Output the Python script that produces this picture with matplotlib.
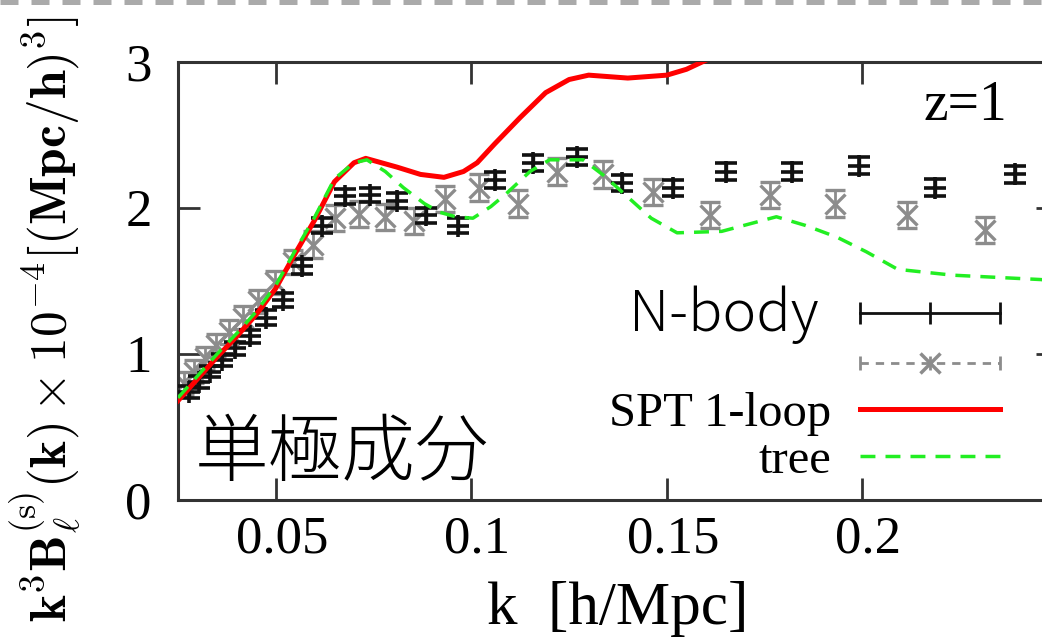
import matplotlib
matplotlib.use("Agg")
import matplotlib.pyplot as plt
from matplotlib.lines import Line2D
from matplotlib.legend_handler import HandlerLine2D, HandlerTuple
from matplotlib.transforms import ScaledTranslation

# N-body measurements (black +)
k_nbody = [0.0278, 0.0304, 0.0332, 0.0363, 0.0397, 0.0434, 0.0474, 0.0518, 0.0567,
           0.0619, 0.0677, 0.0740, 0.0809, 0.0884, 0.0966, 0.1060, 0.1158, 0.1270,
           0.1385, 0.1516, 0.1650, 0.1820, 0.1990, 0.2186, 0.2390]
b_nbody = [0.74, 0.81, 0.88, 0.96, 1.04, 1.12, 1.25, 1.37, 1.60,
           1.88, 2.08, 2.09, 2.05, 1.95, 1.88, 2.19, 2.31, 2.35,
           2.17, 2.14, 2.25, 2.25, 2.29, 2.14, 2.23]
err_nbody = [0.04, 0.04, 0.04, 0.04, 0.045, 0.045, 0.05, 0.05, 0.05,
             0.05, 0.05, 0.05, 0.05, 0.05, 0.05, 0.055, 0.055, 0.055,
             0.055, 0.055, 0.06, 0.06, 0.06, 0.06, 0.06]

# second N-body set (grey x)
k_grey = [0.0266, 0.0291, 0.0318, 0.0348, 0.0380, 0.0416, 0.0455, 0.0498, 0.0545,
          0.0596, 0.0652, 0.0713, 0.0780, 0.0853, 0.0933, 0.1020, 0.1120, 0.1220,
          0.1337, 0.1465, 0.1610, 0.1764, 0.1930, 0.2115, 0.2314]
b_grey = [0.80, 0.88, 0.97, 1.06, 1.15, 1.25, 1.36, 1.49, 1.63,
          1.75, 1.93, 1.96, 1.94, 1.91, 2.06, 2.14, 2.03, 2.25,
          2.23, 2.11, 1.95, 2.09, 2.03, 1.95, 1.85]
err_grey = [0.08] * 9 + [0.09] * 16

# SPT 1-loop prediction
k_spt = [0.025, 0.030, 0.035, 0.040, 0.045, 0.050, 0.055, 0.060, 0.065, 0.070,
         0.073, 0.077, 0.081, 0.087, 0.093, 0.098, 0.1015, 0.106, 0.1125, 0.119,
         0.125, 0.130, 0.140, 0.150, 0.155, 0.159, 0.163]
b_spt = [0.68, 0.83, 0.98, 1.12, 1.27, 1.45, 1.69, 1.92, 2.18, 2.31,
         2.34, 2.31, 2.28, 2.23, 2.21, 2.25, 2.31, 2.44, 2.62, 2.79,
         2.88, 2.91, 2.89, 2.91, 2.95, 3.00, 3.05]

# tree-level prediction
k_tree = [0.025, 0.030, 0.035, 0.040, 0.045, 0.050, 0.055, 0.060, 0.065, 0.070,
          0.0733, 0.078, 0.0826, 0.088, 0.092, 0.096, 0.1004, 0.105, 0.109, 0.115,
          0.120, 0.1286, 0.134, 0.1398, 0.146, 0.1526, 0.164, 0.171, 0.178, 0.1855,
          0.1935, 0.201, 0.209, 0.216, 0.223, 0.2455, 0.25]
b_tree = [0.70, 0.85, 1.00, 1.14, 1.29, 1.47, 1.71, 1.94, 2.20, 2.31,
          2.33, 2.25, 2.14, 2.03, 1.97, 1.94, 1.93, 2.01, 2.10, 2.25,
          2.33, 2.33, 2.22, 2.08, 1.93, 1.83, 1.84, 1.89, 1.94, 1.88,
          1.80, 1.70, 1.58, 1.56, 1.54, 1.51, 1.50]

x_ticks = [0.05, 0.1, 0.15, 0.2]
x_ticklabels = ["0.05", "0.1", "0.15", "0.2"]
y_ticks = [0, 1, 2, 3]

plt.rcParams['font.family'] = ['Liberation Serif', 'DejaVu Serif']
plt.rcParams['mathtext.fontset'] = 'cm'

fig = plt.figure(figsize=(10.42, 6.38), dpi=100)
ax = fig.add_axes([178 / 1042, 138 / 638, 880 / 1042, 438 / 638])

grey = '#8c8c8c'
green = '#22ee22'

ax.errorbar(k_grey, b_grey, yerr=err_grey, fmt='x', color=grey, ms=14, mew=2.4,
            elinewidth=2, capsize=7.5, capthick=2.2, zorder=2)
ax.errorbar(k_nbody, b_nbody, yerr=err_nbody, fmt='+', color='#111111', ms=16, mew=2.6,
            elinewidth=2.4, capsize=8, capthick=2.6, zorder=3)
ax.plot(k_spt, b_spt, color='red', lw=3.6, zorder=4)
ax.plot(k_tree, b_tree, color=green, lw=2.5, ls=(0, (4.3, 2.9)), zorder=5)

ax.set_xlim(0.025, 0.25)
ax.set_ylim(0, 3)
ax.set_xticks(x_ticks)
ax.set_xticklabels(x_ticklabels)
ax.set_yticks(y_ticks)
ax.tick_params(direction='in', length=16, width=2, top=True, right=True,
               labelsize=38, color='#333333')
ax.tick_params(axis='y', pad=19)
ax.tick_params(axis='x', pad=11)
# x tick labels sit slightly right of their ticks
nudge = ScaledTranslation(6 / 100, 0, fig.dpi_scale_trans)
for lab in ax.get_xticklabels():
    lab.set_transform(lab.get_transform() + nudge)
for s in ax.spines.values():
    s.set_linewidth(2.2)
    s.set_color('#333333')

ax.set_xlabel('k  [h/Mpc]', fontsize=44)
ax.xaxis.set_label_coords(0.50, -0.249)
ax.xaxis.label.set_va('center')

fig.text(45 / 1042, 0.50,
         r'$\mathbf{k^3B}_{\ell}^{(\mathrm{s})}(\mathbf{k})\times\mathbf{10^{-4}}'
         r'[(\mathbf{Mpc/h})^{\mathbf{3}}]$',
         rotation=90, ha='center', va='center', fontsize=37)

ax.text(0.942, 0.90, 'z=1', transform=ax.transAxes, ha='right', va='center', fontsize=40)
ax.text(0.019, 0.103, '単極成分', transform=ax.transAxes, ha='left', va='center',
        fontsize=53, family=['Noto Sans CJK JP', 'DejaVu Sans'], weight='light')

# legend keys in the gnuplot style
black_key = Line2D([], [], color='#111111', lw=2, marker='|', ms=16, mew=2)
grey_line = Line2D([], [], color=grey, lw=2, ls=(0, (3, 2.5)), marker='|', ms=10, mew=2)
grey_x = Line2D([], [], color=grey, ls='none', marker='x', ms=14, mew=2.5)
red_key = Line2D([], [], color='red', lw=3.6)
green_key = Line2D([], [], color=green, lw=2.5, ls=(0, (4.3, 2.9)))

leg = ax.legend([black_key, (grey_line, grey_x), red_key, green_key],
                ['N-body ', '', 'SPT 1-loop', 'tree'],
                numpoints=3,
                handler_map={grey_x: HandlerLine2D(numpoints=1), tuple: HandlerTuple()},
                markerfirst=False, frameon=False, fontsize=35,
                handlelength=3.48, handletextpad=0.31, labelspacing=0.05,
                borderpad=0, borderaxespad=0, loc='upper right',
                bbox_to_anchor=(1015 / 1042, 1 - 285 / 638),
                bbox_transform=fig.transFigure)
nb = leg.get_texts()[0]
nb.set_fontfamily(['Noto Sans CJK JP', 'DejaVu Sans'])
nb.set_fontweight('light')
nb.set_fontsize(41)

# dashed border along the top edge
fig.add_artist(Line2D([0, 1], [1 - 1.5 / 638] * 2, transform=fig.transFigure,
                      color='#aaaaaa', lw=3.6, ls=(0, (3.6, 2.6))))

fig.savefig('out.png', dpi=100)
